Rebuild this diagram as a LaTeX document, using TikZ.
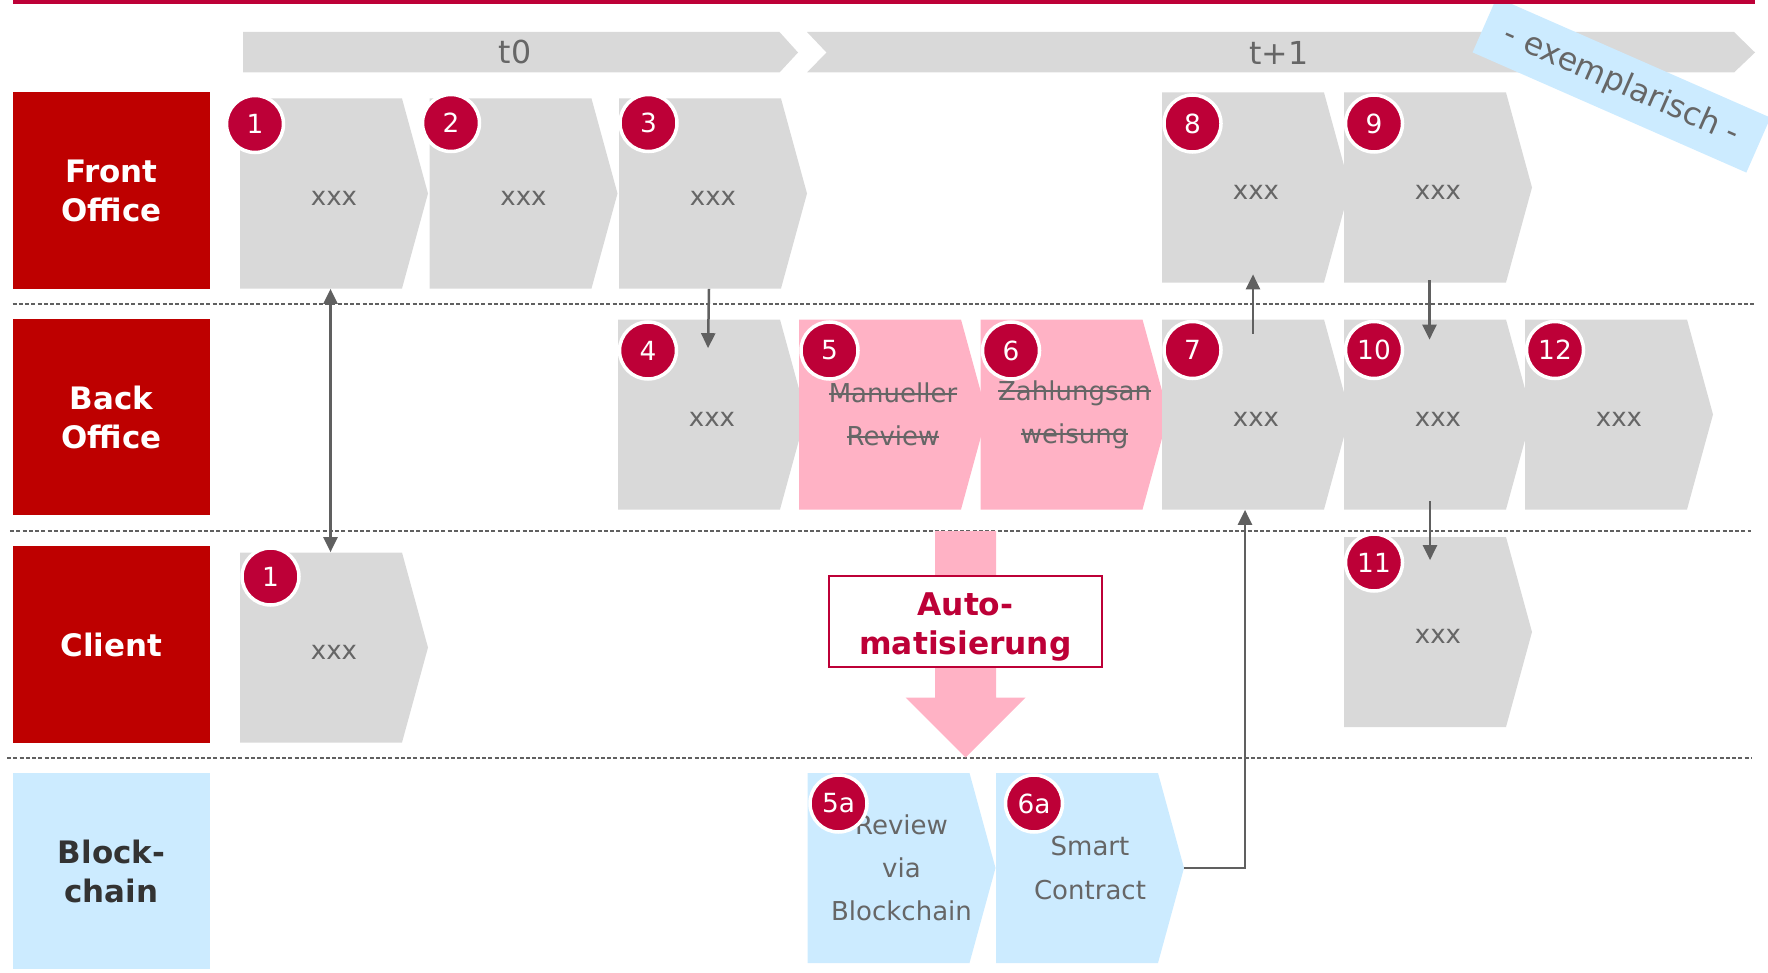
\documentclass[tikz,border=0pt]{standalone}
\usepackage{fontspec}
\setmainfont{DejaVu Sans}
\usepackage{xcolor}
\usepackage{tikz}
\usetikzlibrary{arrows.meta,calc}

\definecolor{lanered}{RGB}{190,0,0}
\definecolor{numred}{RGB}{189,0,55}
\definecolor{boxgray}{RGB}{217,217,217}
\definecolor{autopink}{RGB}{255,178,197}
\definecolor{chainblue}{RGB}{204,235,255}
\definecolor{txtgray}{RGB}{102,102,102}
\definecolor{darktxt}{RGB}{51,51,51}
\definecolor{linegray}{RGB}{96,96,96}

% struck-out word
\newlength{\strkwd}
\newcommand{\strk}[1]{\settowidth{\strkwd}{#1}\rlap{#1}\rule[0.31em]{\strkwd}{1.1pt}}
% placeholder text, sits a bit low in its box
\newcommand{\tbd}{\raisebox{-0.09cm}[\height][\depth]{xxx}}

\tikzset{
  lane/.style={minimum width=3.94cm, minimum height=3.93cm, inner sep=0pt,
               align=center, text=white, font=\fontsize{17.6}{22.2}\selectfont\bfseries},
  chev/.style={minimum width=3.76cm, minimum height=3.8cm, inner sep=0pt,
               align=center, text=txtgray, font=\fontsize{14.8}{24.5}\selectfont,
               path picture={\fill[#1] (path picture bounding box.north west)
                 -- ([xshift=-0.52cm]path picture bounding box.north east)
                 -- (path picture bounding box.east)
                 -- ([xshift=-0.52cm]path picture bounding box.south east)
                 -- (path picture bounding box.south west) -- cycle;}},
  chev/.default=boxgray,
  num/.style={circle, fill=numred, draw=white, line width=0.07cm, minimum size=1.14cm,
              inner sep=0pt, text=white, font=\fontsize{15}{15}\selectfont},
  conn/.style={linegray, line width=0.05cm, >={Triangle[length=0.3cm,width=0.28cm]}},
  lanesep/.style={linegray, line width=0.04cm, dash pattern=on 0.08cm off 0.045cm},
}

\begin{document}
\begin{tikzpicture}

%% ── Frame: 1cm = 50px of the slide ─────────────────────────────────────────
% lane rows (y, cm): FO -3.81, BO -8.34, Client -12.89, Blockchain -17.42
% chevron pitch: FO 3.79, BO 3.63
\useasboundingbox (0,0) rectangle (35.36,-19.46);

%% ── Time bars ──────────────────────────────────────────────────────────────
\fill[boxgray] (4.86,-0.64) -- (15.59,-0.64) -- (15.96,-1.05) -- (15.59,-1.45)
  -- (4.86,-1.45) -- cycle;
\fill[boxgray] (16.14,-0.64) -- (34.68,-0.64) -- (35.10,-1.05) -- (34.68,-1.45)
  -- (16.14,-1.45) -- (16.53,-1.05) -- cycle;
\node[text=txtgray, font=\fontsize{18}{18}\selectfont] (tzero) at (10.30,-1.04) {t0};
\node[text=txtgray, font=\fontsize{18}{18}\selectfont] (tone) at (25.58,-1.06) {t+1};

%% ── Banner (clipped at the slide edge) ─────────────────────────────────────
\begin{scope}
  \clip (0,0) rectangle (35.36,-19.46);
  \node[fill=chainblue, rotate=-23.7, minimum width=5.98cm, minimum height=1.2cm,
        text=txtgray, font=\fontsize{18}{18}\selectfont] (exmp) at (32.43,-1.70)
    {- exemplarisch -};
\end{scope}

%% ── Top rule ───────────────────────────────────────────────────────────────
\fill[numred] (0.25,0) rectangle (35.10,-0.08);

%% ── Lane labels ────────────────────────────────────────────────────────────
\node[lane, fill=lanered] (fo) at (2.23,-3.81) {Front\\Office};
\node[lane, fill=lanered] (bo) at (2.23,-8.34) {Back\\Office};
\node[lane, fill=lanered] (cl) at (2.23,-12.89) {Client};
\node[lane, fill=chainblue, text=darktxt] (bc) at (2.23,-17.42) {Block-\\chain};

%% ── Lane separators ────────────────────────────────────────────────────────
\draw[lanesep] (0.25,-6.07) -- (35.10,-6.07);
\draw[lanesep] (0.20,-10.61) -- (35.02,-10.61);
\draw[lanesep] (0.14,-15.15) -- (35.02,-15.15);

%% ── Front office ───────────────────────────────────────────────────────────
\node[chev] (fo1) at (6.68,-3.87) {\tbd};
\node[chev] (fo2) at (10.47,-3.87) {\tbd};
\node[chev] (fo3) at (14.26,-3.87) {\tbd};
\node[chev] (fo8) at (25.12,-3.75) {\tbd};
\node[chev] (fo9) at (28.76,-3.75) {\tbd};

%% ── Back office ────────────────────────────────────────────────────────────
\node[chev] (bo4) at (14.24,-8.29) {\tbd};
\node[chev=autopink] (bo5) at (17.86,-8.29) {\strk{Manueller}\\\strk{Review}};
\node[chev=autopink] (bo6) at (21.49,-8.29) {\strk{Zahlungsan}\\\strk{weisung}};
\node[chev] (bo7) at (25.12,-8.29) {\tbd};
\node[chev] (bo10) at (28.76,-8.29) {\tbd};
\node[chev] (bo12) at (32.38,-8.29) {\tbd};

%% ── Client ─────────────────────────────────────────────────────────────────
\node[chev] (cl1) at (6.68,-12.95) {\tbd};
\node[chev] (cl11) at (28.76,-12.64) {\tbd};

%% ── Blockchain ─────────────────────────────────────────────────────────────
\node[chev=chainblue] (bc5) at (18.03,-17.36) {Review\\via\\Blockchain};
\node[chev=chainblue] (bc6) at (21.80,-17.36) {Smart\\Contract};

%% ── Step numbers ───────────────────────────────────────────────────────────
\node[num] (n1) at (5.10,-2.48) {1};
\node[num] (n2) at (9.02,-2.46) {2};
\node[num] (n3) at (12.97,-2.46) {3};
\node[num] (n8) at (23.85,-2.47) {8};
\node[num] (n9) at (27.48,-2.47) {9};
\node[num] (n4) at (12.96,-7.01) {4};
\node[num] (n5) at (16.59,-7.01) {5};
\node[num] (n6) at (20.22,-7.01) {6};
\node[num] (n7) at (23.85,-7.00) {7};
\node[num] (n10) at (27.48,-7.00) {10};
\node[num] (n12) at (31.10,-7.00) {12};
\node[num] (n1c) at (5.41,-11.53) {1};
\node[num] (n11) at (27.48,-11.25) {11};
\node[num] (n5a) at (16.77,-16.07) {5a};
\node[num] (n6a) at (20.68,-16.07) {6a};

%% ── Automatisierung ────────────────────────────────────────────────────────
\fill[autopink] (18.70,-10.62) -- (19.92,-10.62) -- (19.92,-13.95) -- (20.51,-13.95)
  -- (19.31,-15.15) -- (18.11,-13.95) -- (18.70,-13.95) -- cycle;
\node[draw=numred, line width=0.04cm, fill=white, minimum width=5.47cm,
      minimum height=1.83cm, inner sep=0pt] (auto) at (19.31,-12.43) {};
\node[align=center, text=numred, font=\fontsize{17.8}{21.8}\selectfont\bfseries]
  (autotxt) at ([yshift=-0.11cm]auto.center) {Auto-\\matisierung};

%% ── Connectors ─────────────────────────────────────────────────────────────
\draw[conn, <->] ([xshift=-0.07cm]fo1.south) -- ([xshift=-0.07cm]cl1.north);
\draw[conn, ->] ([xshift=-0.08cm]fo3.south) -- ([xshift=-0.08cm, yshift=-0.58cm]bo4.north);
\draw[conn, ->] ([xshift=-0.06cm, yshift=-0.29cm]bo7.north) -- ([xshift=-0.06cm, yshift=0.17cm]fo8.south);
\draw[conn, ->] ([xshift=-0.17cm, yshift=0.05cm]fo9.south) -- ([xshift=-0.17cm, yshift=-0.41cm]bo10.north);
\draw[conn, ->] ([xshift=-0.16cm, yshift=0.17cm]bo10.south) -- ([xshift=-0.16cm, yshift=-0.47cm]cl11.north);
\draw[conn, ->] (bc6.east) -| ([xshift=-0.22cm]bo7.south);

\end{tikzpicture}
\end{document}
